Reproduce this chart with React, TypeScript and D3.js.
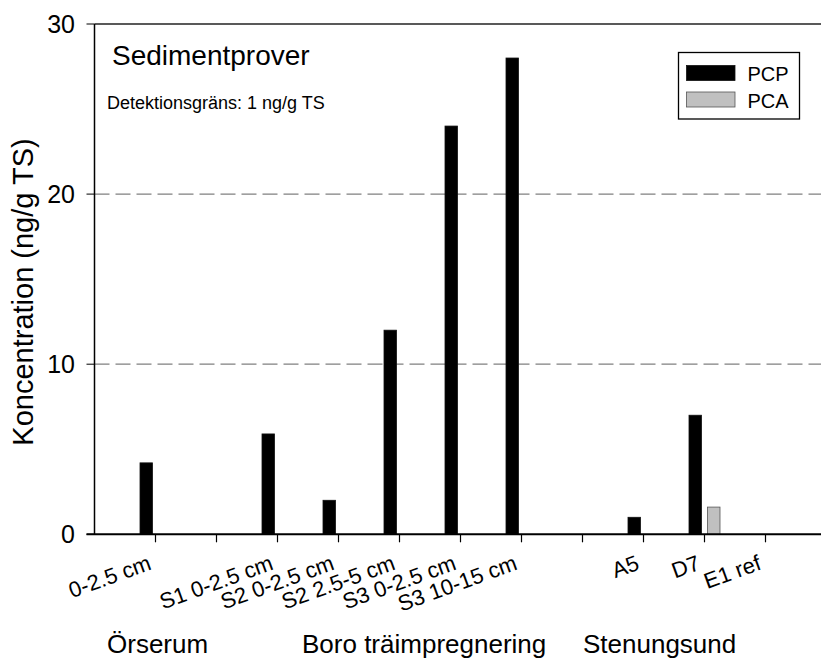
import React, { useEffect } from 'react';
import * as d3 from 'd3';

// sample labels along the x axis (blank slots are gaps between sites)
const categories = ['0-2.5 cm', 'gap1', 'S1 0-2.5 cm', 'S2 0-2.5 cm', 'S2 2.5-5 cm', 'S3 0-2.5 cm', 'S3 10-15 cm', 'gap2', 'A5', 'D7', 'E1 ref'];
const pcpValues = [4.2, 0, 5.9, 2.0, 12.0, 24.0, 28.0, 0, 1.0, 7.0, 0];
const pcaValues = [0, 0, 0, 0, 0, 0, 0, 0, 0, 1.6, 0];
const series = ['PCP', 'PCA'];
const yTicks = [0, 10, 20, 30];
const gridValues = [10, 20];
const groupLabels = [
  { text: 'Örserum', x: 107 },
  { text: 'Boro träimpregnering', x: 302 },
  { text: 'Stenungsund', x: 583 },
];

const W = 821;
const H = 659;
const FONT = 'Liberation Sans, Arial, Helvetica, sans-serif';

const App = () => {
  useEffect(() => {
    document.body.style.margin = '0';
  }, []);

  const left = 94.5;
  const x = d3.scalePoint<string>().domain(categories).range([155.5, 765.5]);
  const y = d3.scaleLinear().domain([0, 30]).range([534.3, 24]);
  const x1 = d3.scaleBand<string>().domain(series).range([-15.5, 15.5]).paddingInner(0.324);
  const fills: Record<string, string> = { PCP: '#000000', PCA: '#c0c0c0' };
  const strokes: Record<string, string> = { PCP: '#111111', PCA: '#555555' };

  const bars = categories.flatMap((c, i) =>
    series.map(s => ({ c, s, v: s === 'PCP' ? pcpValues[i] : pcaValues[i] }))
  ).filter(d => d.v > 0);

  return (
    <svg width={W} height={H} style={{ display: 'block', fontFamily: FONT }}>
      <rect width={W} height={H} fill="#fff" />
      {/* grid */}
      {gridValues.map(g => (
        <line key={g} x1={left} x2={W} y1={y(g)} y2={y(g)} stroke="#808080" strokeWidth={1.2} strokeDasharray="15 6" />
      ))}
      {/* bars */}
      {bars.map(d => (
        <rect key={d.c + d.s}
          x={(x(d.c) as number) + (x1(d.s) as number)}
          y={y(d.v)}
          width={x1.bandwidth()}
          height={y(0) - y(d.v)}
          fill={fills[d.s]} stroke={strokes[d.s]} strokeWidth={0.8} />
      ))}
      {/* frame */}
      <line x1={left} x2={W + 10} y1={y(30)} y2={y(30)} stroke="#222" strokeWidth={1.5} />
      <line x1={left} x2={left} y1={y(30)} y2={y(0)} stroke="#000" strokeWidth={1.5} />
      <line x1={left - 8} x2={W + 10} y1={y(0)} y2={y(0)} stroke="#000" strokeWidth={2} />
      {/* y ticks */}
      {yTicks.map(t => (
        <g key={t}>
          <line x1={left - 8} x2={left} y1={y(t)} y2={y(t)} stroke="#000" strokeWidth={1} />
          <text x={75} y={y(t)} dy="0.36em" textAnchor="end" fontSize={25}>{t}</text>
        </g>
      ))}
      {/* x ticks */}
      {categories.map(c => (
        <g key={c}>
          <line x1={x(c)} x2={x(c)} y1={y(0)} y2={y(0) + 8} stroke="#000" strokeWidth={1.2} />
          {!c.startsWith('gap') && (
            <text transform={`translate(${(x(c) as number) - 3},569) rotate(-20)`} textAnchor="end" fontSize={22}>{c}</text>
          )}
        </g>
      ))}
      {/* axis title */}
      <text transform="translate(33,292) rotate(-90)" textAnchor="middle" fontSize={29}>Koncentration (ng/g TS)</text>
      {/* annotations */}
      <text x={112} y={65} fontSize={28}>Sedimentprover</text>
      <text x={107} y={109.3} fontSize={18}>Detektionsgräns: 1 ng/g TS</text>
      {groupLabels.map(g => (
        <text key={g.text} x={g.x} y={653} fontSize={26}>{g.text}</text>
      ))}
      {/* legend */}
      <g>
        <rect x={678.5} y={52.5} width={121} height={66.5} fill="#fff" stroke="#000" strokeWidth={1.3} />
        {series.map((s, i) => (
          <g key={s} transform={`translate(686.5,${65.5 + i * 26.5})`}>
            <rect width={48.5} height={15} fill={fills[s]} stroke={strokes[s]} strokeWidth={0.8} />
            <text x={61} y={15.5} fontSize={20}>{s}</text>
          </g>
        ))}
      </g>
    </svg>
  );
};

export default App;
